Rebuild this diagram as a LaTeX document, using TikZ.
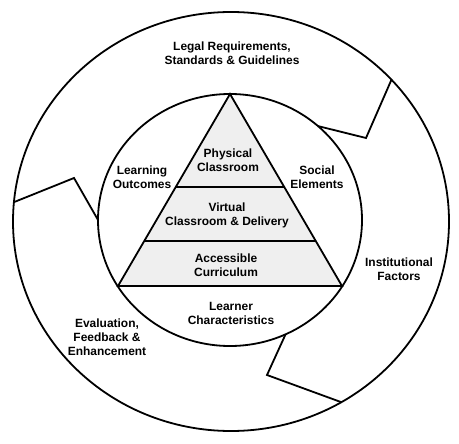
\documentclass[tikz,border=0pt]{standalone}
\usepackage{fontspec}
\setmainfont{Liberation Sans}
\usepackage{tikz}
\usetikzlibrary{
	calc
}
\definecolor{PyramidGray}{RGB}{239,239,239}
\tikzset{
	lbl/.style={align=center, inner sep=0pt, font=\bfseries\fontsize{12}{14}\selectfont}
}

\begin{document}
\begin{tikzpicture}[x=1bp, y=-1bp, line width=1.8bp]
	\useasboundingbox (0,0) rectangle (459,444);
	\coordinate (O) at (231,221.5);
	\coordinate (I) at (230,220);
	\draw (O) ellipse (218 and 209.5);
	\draw (I) ellipse (132 and 126);
	\coordinate (A) at (230,94);
	\coordinate (B) at (118,286);
	\coordinate (C) at (342,286);
	\filldraw[fill=PyramidGray] (A) -- (B) -- (C) -- cycle;
	\draw ($(A)!0.484!(B)$) -- ($(A)!0.484!(C)$);
	\draw ($(A)!0.766!(B)$) -- ($(A)!0.766!(C)$);
	\coordinate (Z1in) at ($(I)+(-48.2:132 and 126)$);
	\coordinate (Z1mid) at (366,138);
	\coordinate (Z1out) at ($(O)+(-42.6:218 and 209.5)$);
	\coordinate (Z2out) at ($(O)+(185.3:218 and 209.5)$);
	\coordinate (Z2mid) at (74,178);
	\coordinate (Z2in) at ($(I)+(180:132 and 126)$);
	\coordinate (Z3in) at ($(I)+(65.1:132 and 126)$);
	\coordinate (Z3mid) at (267,375);
	\coordinate (Z3out) at ($(O)+(59.6:218 and 209.5)$);
	\draw (Z1in) -- (Z1mid) -- (Z1out);
	\draw (Z2out) -- (Z2mid) -- (Z2in);
	\draw (Z3in) -- (Z3mid) -- (Z3out);
	\node[lbl] (legal) at (232,53) {Legal Requirements,\\Standards \& Guidelines};
	\node[lbl] (outcomes) at (142,177) {Learning\\Outcomes};
	\node[lbl] (social) at (317,177) {Social\\Elements};
	\node[lbl] (physical) at (228,160) {Physical\\Classroom};
	\node[lbl] (virtual) at (227,215) {Virtual\\Classroom \& Delivery};
	\node[lbl] (curriculum) at (226,265) {Accessible\\Curriculum};
	\node[lbl] (learner) at (231,313) {Learner\\Characteristics};
	\node[lbl] (institutional) at (399,269) {Institutional\\Factors};
	\node[lbl] (evaluation) at (107,337) {Evaluation,\\Feedback \&\\Enhancement};
\end{tikzpicture}
\end{document}
